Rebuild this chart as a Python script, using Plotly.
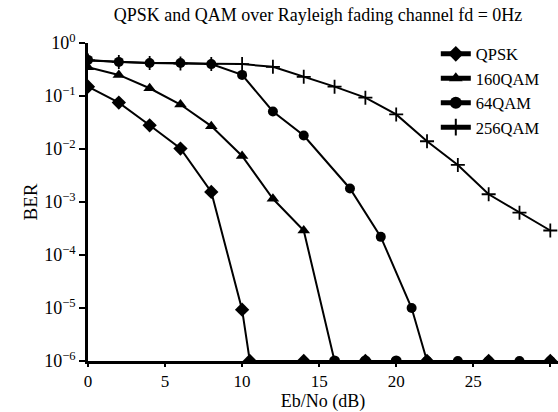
import plotly.graph_objects as go

# Data (Eb/No in dB, BER)
qpsk_x = [0, 2, 4, 6, 8, 10, 10.5, 14, 18, 22, 26, 30]
qpsk_y = [0.15, 0.075, 0.028, 0.0102, 0.00155, 9.3e-6, 1e-6, 1e-6, 1e-6, 1e-6, 1e-6, 1e-6]

qam16_x = [0, 2, 4, 6, 8, 10, 12, 14, 16, 18, 20]
qam16_y = [0.35, 0.25, 0.14, 0.069, 0.027, 0.0074, 0.00115, 2.9e-4, 1e-6, 1e-6, 1e-6]
qam16_sym = ["triangle-up"] * 8 + ["circle"] * 3

qam64_x = [0, 2, 4, 6, 8, 10, 12, 14, 17, 19, 21, 22, 24, 26, 28, 30]
qam64_y = [0.48, 0.44, 0.42, 0.42, 0.40, 0.25, 0.051, 0.018, 0.0018, 2.2e-4, 1.0e-5,
           1e-6, 1e-6, 1e-6, 1e-6, 1e-6]

qam256_x = [0, 2, 4, 6, 8, 10, 12, 14, 16, 18, 20, 22, 24, 26, 28, 30]
qam256_y = [0.47, 0.44, 0.42, 0.41, 0.40, 0.40, 0.355, 0.23, 0.15, 0.093, 0.045, 0.014,
            0.005, 0.0014, 6.3e-4, 2.9e-4]

names = ["QPSK", "160QAM", "64QAM", "256QAM"]
x_ticks = [0, 5, 10, 15, 20, 25, 30]
y_ticks = [1, 1e-1, 1e-2, 1e-3, 1e-4, 1e-5, 1e-6]
y_ticktext = ["10<sup>0</sup>", "10<sup>\u22121</sup>", "10<sup>\u22122</sup>",
              "10<sup>\u22123</sup>", "10<sup>\u22124</sup>", "10<sup>\u22125</sup>",
              "10<sup>\u22126</sup>"]

FONT = "Liberation Serif, Times New Roman, serif"

fig = go.Figure()
fig.add_trace(go.Scatter(x=qpsk_x, y=qpsk_y, name=names[0], mode="lines+markers",
                         line=dict(color="black", width=2),
                         marker=dict(symbol="diamond", size=11, color="black")))
fig.add_trace(go.Scatter(x=qam16_x, y=qam16_y, name=names[1], mode="lines+markers",
                         line=dict(color="black", width=2),
                         marker=dict(symbol=qam16_sym, size=11, color="black")))
fig.add_trace(go.Scatter(x=qam64_x, y=qam64_y, name=names[2], mode="lines+markers",
                         line=dict(color="black", width=2),
                         marker=dict(symbol="circle", size=10, color="black")))
fig.add_trace(go.Scatter(x=qam256_x, y=qam256_y, name=names[3], mode="lines+markers",
                         line=dict(color="black", width=2),
                         marker=dict(symbol="cross-thin", size=10, color="black",
                                     line=dict(color="black", width=1.8))))

fig.update_layout(
    width=558, height=412,
    margin=dict(l=88, r=0, t=43, b=49),
    paper_bgcolor="white", plot_bgcolor="white",
    font=dict(family=FONT, size=18, color="black"),
    title=dict(text="QPSK and QAM over Rayleigh fading channel fd = 0Hz",
               x=0.57, xanchor="center", y=0.965, yanchor="middle",
               font=dict(family=FONT, size=18, color="black")),
    legend=dict(x=0.74, y=1.02, xanchor="left", yanchor="top",
                bgcolor="rgba(0,0,0,0)", font=dict(family=FONT, size=16.5),
                tracegroupgap=0, itemsizing="constant"),
    showlegend=True,
)
fig.update_xaxes(range=[0, 30.5], tickvals=x_ticks, showgrid=False, zeroline=False,
                 showline=True, linecolor="black", linewidth=2.5,
                 ticks="outside", ticklen=3, tickwidth=2, tickcolor="black",
                 title=dict(text="Eb/No (dB)", standoff=8, font=dict(size=18)),
                 tickfont=dict(size=17))
fig.update_yaxes(type="log", range=[-6, 0], tickvals=y_ticks, ticktext=y_ticktext,
                 showgrid=False, zeroline=False,
                 showline=True, linecolor="black", linewidth=2.5,
                 ticks="outside", ticklen=6, tickwidth=2, tickcolor="black",
                 title=dict(text="BER", standoff=2, font=dict(size=19)),
                 tickfont=dict(size=18))

fig.write_html("out.html")
